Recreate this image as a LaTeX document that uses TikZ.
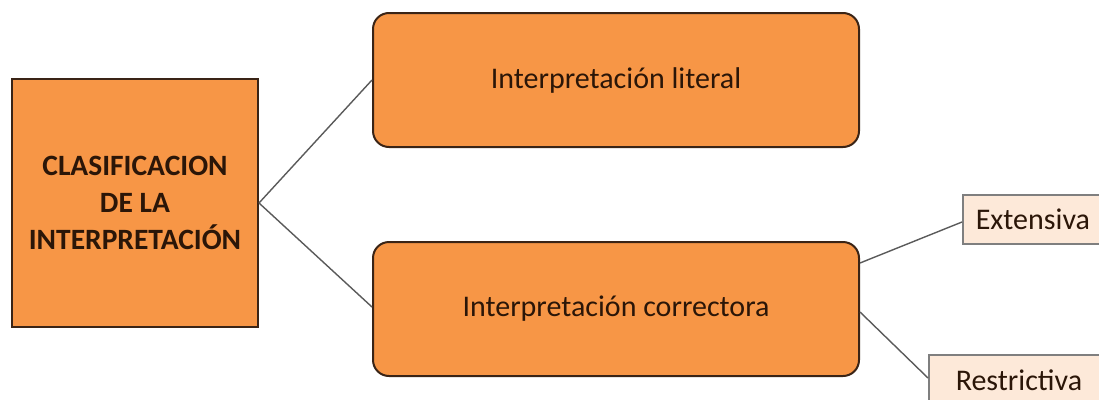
\documentclass[tikz,border=0pt]{standalone}
\usepackage{fontspec}
\setmainfont{Carlito}
\definecolor{boxorange}{HTML}{F79646}
\definecolor{boxborder}{HTML}{3A2416}
\definecolor{lightfill}{HTML}{FDE9D9}
\definecolor{lightborder}{HTML}{7F7F7F}
\definecolor{txtcol}{HTML}{2B1608}
\definecolor{linecol}{HTML}{5A5A5A}
\tikzset{
  mainbox/.style={draw=boxborder, fill=boxorange, line width=2pt, text=txtcol, inner sep=0pt, align=center},
  roundbox/.style={mainbox, rounded corners=16pt},
  leafbox/.style={draw=lightborder, fill=lightfill, line width=1.5pt, text=txtcol, inner sep=0pt, anchor=west},
  conn/.style={draw=linecol, line width=1.4pt}
}
\begin{document}
\begin{tikzpicture}[x=1pt,y=-1pt]
\useasboundingbox (0,0) rectangle (1099,399);
\clip (0,0) rectangle (1099,399);
\node[mainbox, minimum width=246pt, minimum height=248pt, font=\fontsize{29.5}{37}\selectfont\bfseries] (root) at (135,203) {CLASIFICACION\\DE LA\\INTERPRETACIÓN};
\node[roundbox, minimum width=486pt, minimum height=134pt, font=\fontsize{30}{36}\selectfont] (lit) at (616,80) {Interpretación literal};
\node[roundbox, minimum width=486pt, minimum height=134pt, font=\fontsize{30}{36}\selectfont] (cor) at (616,309) {Interpretación correctora};
\node[leafbox, minimum width=150pt, minimum height=49pt, font=\fontsize{30}{36}\selectfont, text width=150pt, align=left] (ext) at (962,219.5) {\hspace*{13pt}Extensiva};
\node[leafbox, minimum width=180pt, minimum height=50pt, font=\fontsize{30}{36}\selectfont, text width=180pt, align=left] (res) at (928,380) {\hspace*{27pt}Restrictiva};
\coordinate (r1) at (258,203);
\coordinate (l1) at (373,80);
\coordinate (c1) at (373,307);
\coordinate (c2) at (859,263);
\coordinate (e1) at (962,222);
\coordinate (c3) at (859,312);
\coordinate (s1) at (928,378);
\draw[conn] (root.east) -- (lit.west |- l1);
\draw[conn] (root.east) -- (cor.west |- c1);
\draw[conn] (cor.east |- c2) -- (ext.west |- e1);
\draw[conn] (cor.east |- c3) -- (res.west |- s1);
\end{tikzpicture}
\end{document}
